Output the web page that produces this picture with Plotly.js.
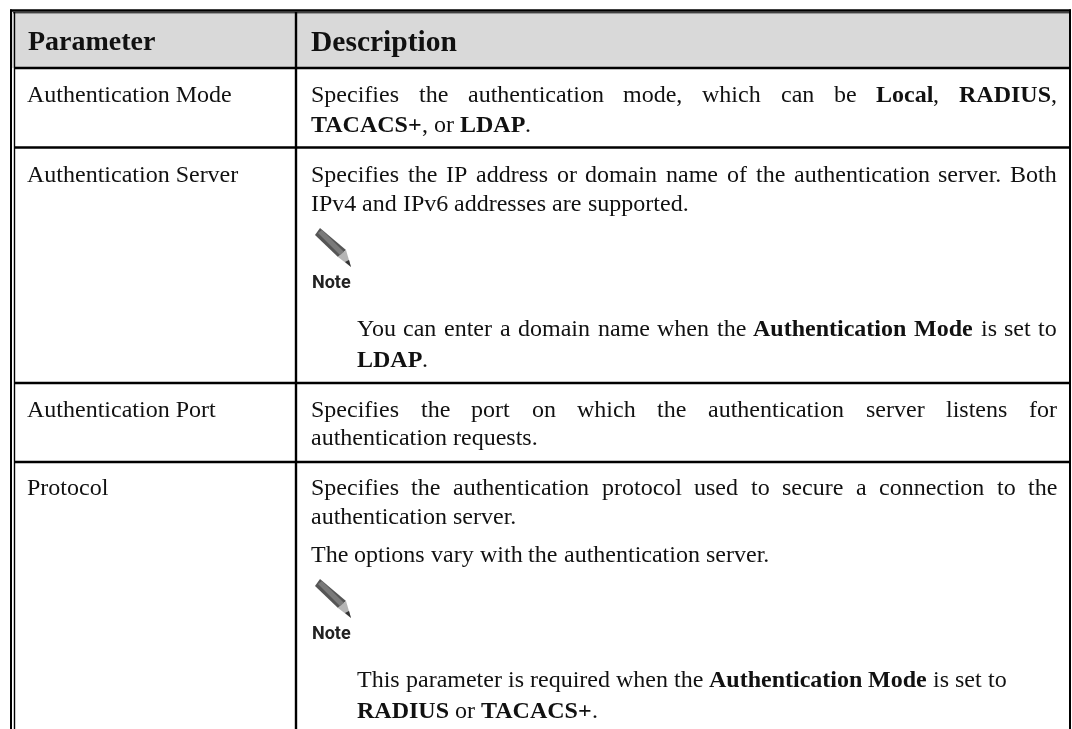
<!DOCTYPE html>
<html><head><meta charset="utf-8">
<script src="https://cdn.plot.ly/plotly-3.0.1.min.js"></script>
<style>html,body{margin:0;padding:0;background:#fff}#p{width:1072px;height:729px;filter:blur(0.4px)}</style>
</head><body><div id="p"></div>
<script>
const headers = ["Parameter", "Description"];
const headerX = [28, 311];
const headerSize = [28, 29.5];
const paramNames = ["Authentication Mode", "Authentication Server", "Authentication Port", "Protocol"];
const paramBase = [102, 182, 417, 495];
const tableLeft = 12, tableRight = 1070, colSplit = 296, tableTop = 11, headerBottom = 68;
const rowLines = [147.5, 383, 462];
const descLeft = 311, descRight = 1057, noteLeft = 357;
// each line: [baseline y, left x, justified?, text with **bold** runs]
const descLines = [
 [102, descLeft, true,  "Specifies the authentication mode, which can be **Local**, **RADIUS**,"],
 [132, descLeft, false, "**TACACS+**, or **LDAP**."],
 [182, descLeft, true,  "Specifies the IP address or domain name of the authentication server. Both"],
 [211, descLeft, false, "IPv4 and IPv6 addresses are supported."],
 [336, noteLeft, true,  "You can enter a domain name when the **Authentication Mode** is set to"],
 [367, noteLeft, false, "**LDAP**."],
 [417, descLeft, true,  "Specifies the port on which the authentication server listens for"],
 [445, descLeft, false, "authentication requests."],
 [495, descLeft, true,  "Specifies the authentication protocol used to secure a connection to the"],
 [524, descLeft, false, "authentication server."],
 [562, descLeft, false, "The options vary with the authentication server."],
 [687, noteLeft, false, "This parameter is required when the **Authentication Mode** is set to"],
 [718, noteLeft, false, "**RADIUS** or **TACACS+**."]
];
const noteCenterY = [281, 632];
const FONT = "Liberation Serif", FS = 24, BASE_OFFSET = 8;

const cv = document.createElement('canvas').getContext('2d');
function tokens(s){
  const out=[]; s.split('**').forEach((part,i)=>{
    const bold=i%2===1; const m=part.match(/\S+|\s+/g)||[];
    m.forEach(t=>out.push({t,bold}));
  }); return out;
}
function w(t,bold){cv.font=(bold?'bold ':'')+FS+'px "'+FONT+'"';return cv.measureText(t).width;}
const ann=[];
function add(x,y,text,bold,size,color,family){
  ann.push({x,y,xref:'x',yref:'y',text:bold?'<b>'+text+'</b>':text,showarrow:false,xanchor:'left',yanchor:'middle',
    font:{family:family||FONT,size:size||FS,color:color||'#111'},borderpad:0,borderwidth:0});
}
descLines.forEach(([y,x0,just,s])=>{
  const tk=tokens(s);
  const words=[];let cur=null;
  tk.forEach(o=>{ if(/^\s+$/.test(o.t)){cur=null;words.push({sp:true});} else { if(cur){cur.runs.push(o);} else {cur={runs:[o]};words.push(cur);} } });
  const chunks=words.filter(o=>!o.sp);
  chunks.forEach(c=>c.w=c.runs.reduce((a,r)=>a+w(r.t,r.bold),0));
  const tot=chunks.reduce((a,c)=>a+c.w,0);
  const gap=just?(descRight-x0-tot)/(chunks.length-1):w(' ',false);
  let x=x0;
  chunks.forEach(c=>{ let xx=x; c.runs.forEach(r=>{add(xx,y-BASE_OFFSET,r.t,r.bold);xx+=w(r.t,r.bold);}); x+=c.w+gap; });
});
paramNames.forEach((n,i)=>add(27,paramBase[i]-BASE_OFFSET,n,false));
headers.forEach((h,i)=>add(headerX[i],40.5,h,true,headerSize[i],'#111'));

const L=(x0,y0,x1,y1,wd)=>({type:'line',xref:'x',yref:'y',x0,y0,x1,y1,line:{color:'#000',width:wd}});
const shapes=[
 {type:'rect',xref:'x',yref:'y',x0:tableLeft,x1:tableRight,y0:tableTop,y1:headerBottom,fillcolor:'#d9d9d9',line:{width:0},layer:'below'},
 L(10,10.5,1071,10.5,2.4), L(13,12.8,1070,12.8,1),
 L(11,9.5,11,729,2), L(14.5,12,14.5,729,1.4),
 L(1070,9.5,1070,729,2),
 L(14,68,1070,68,2.4), L(colSplit,12,colSplit,729,2.4),
 ...rowLines.map(y=>L(14,y,1070,y,2.4))
];
noteCenterY.forEach(y=>{
  const dy=y-281;
  const P=(pts,fill)=>shapes.push({type:'path',xref:'x',yref:'y',path:'M'+pts.map(p=>p[0]+','+(p[1]+dy)).join('L')+'Z',fillcolor:fill,line:{width:0}});
  P([[315,235],[320,228],[346,250],[338,257]],'#555');
  P([[318,233],[322,230],[345,253],[341,256]],'#7a7a7a');
  P([[338,257],[346,250],[351,267]],'#b5b5b5');
  P([[345,262],[349,260],[351,267]],'#333');
  add(312,y,'Note',true,18,'#222','Roboto');
});
Plotly.newPlot('p',[{type:'scatter',mode:'none',x:[0,1072],y:[0,729],hoverinfo:'skip',showlegend:false}],{
  width:1072,height:729,margin:{l:0,r:0,t:0,b:0},paper_bgcolor:'#fff',plot_bgcolor:'#fff',showlegend:false,
  xaxis:{range:[0,1072],visible:false,fixedrange:true},
  yaxis:{range:[729,0],visible:false,fixedrange:true},
  shapes,annotations:ann
},{displayModeBar:false,staticPlot:true});
</script></body></html>
